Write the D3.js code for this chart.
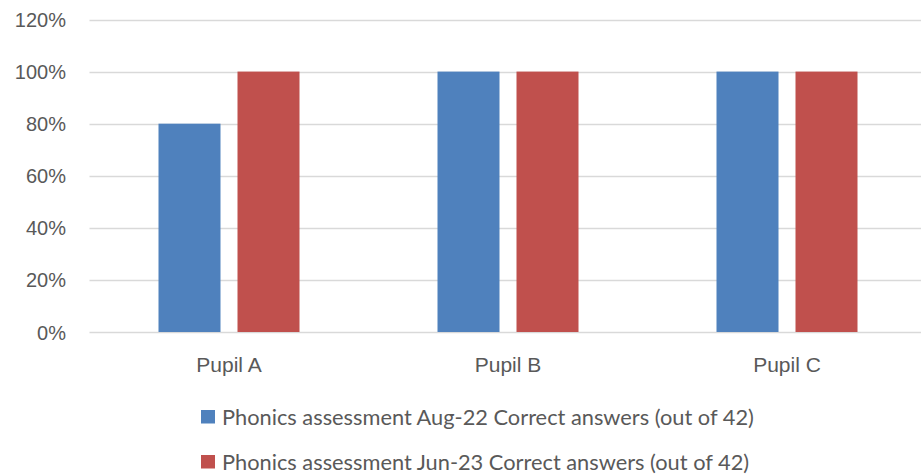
<!DOCTYPE html>
<html>
<head>
<meta charset="utf-8">
<script src="https://cdn.jsdelivr.net/npm/d3@7"></script>
<style>
  html, body { margin: 0; padding: 0; background: #fff; }
  svg { display: block; font-family: "Lato", "Open Sans", sans-serif; }
</style>
</head>
<body>
<svg id="chart" width="921" height="476"></svg>
<script>
// Pupils and their phonics scores (share of 42 questions answered correctly)
const categories = ["Pupil A", "Pupil B", "Pupil C"];
const seriesNames = [
  "Phonics assessment Aug-22 Correct answers (out of 42)",
  "Phonics assessment Jun-23 Correct answers (out of 42)"
];
const aug22 = [0.8, 1.0, 1.0];
const jun23 = [1.0, 1.0, 1.0];
const yTicks = [0, 0.2, 0.4, 0.6, 0.8, 1.0, 1.2];
const colors = ["#4F81BD", "#C0504D"];

const series = [aug22, jun23];

const svg = d3.select("#chart");
const plot = { left: 89.5, right: 926.5, top: 19.5, bottom: 332 };

const x = d3.scaleBand().domain(categories).range([plot.left, plot.right]);
const y = d3.scaleLinear().domain([0, 1.2]).range([plot.bottom, plot.top]);
const barW = 62, barGap = 17;
const xs = d3.scaleBand().domain(d3.range(series.length))
  .range([0, barW * 2 + barGap]).paddingInner(barGap / (barW + barGap));

// horizontal gridlines
svg.append("g").selectAll("line").data(yTicks).join("line")
  .attr("x1", plot.left).attr("x2", plot.right)
  .attr("y1", d => Math.round(y(d)) + 0.5).attr("y2", d => Math.round(y(d)) + 0.5)
  .attr("stroke", "#D9D9D9").attr("stroke-width", 1.3);

// y axis labels
const yAxis = d3.axisLeft(y).tickValues(yTicks).tickFormat(d3.format(".0%")).tickSize(0).tickPadding(0);
const ya = svg.append("g").attr("transform", `translate(66,0)`).call(yAxis);
ya.select(".domain").remove();
ya.selectAll("text").attr("fill", "#595959").style("font-size", "20px").attr("dy", "0.35em");

// bars
const groups = svg.append("g").selectAll("g").data(series).join("g")
  .attr("fill", (d, i) => colors[i]);
groups.each(function (vals, si) {
  d3.select(this).selectAll("rect").data(vals).join("rect")
    .attr("x", (v, ci) => x(categories[ci]) + x.bandwidth() / 2 - (barW * 2 + barGap) / 2 + xs(si))
    .attr("width", xs.bandwidth())
    .attr("y", v => y(v))
    .attr("height", v => y(0) - y(v));
});

// x axis labels
const xAxis = d3.axisBottom(x).tickSize(0).tickPadding(0);
const xa = svg.append("g").attr("transform", `translate(0,372)`).call(xAxis);
xa.select(".domain").remove();
xa.selectAll("text").attr("fill", "#595959").style("font-size", "21px").attr("dy", "0");

// legend
const legend = svg.append("g").selectAll("g").data(seriesNames).join("g")
  .attr("transform", (d, i) => `translate(201,${410 + i * 45})`);
legend.append("rect").attr("width", 14).attr("height", 13.5).attr("fill", (d, i) => colors[i]);
legend.append("text").attr("x", 21).attr("y", 15)
  .attr("fill", "#595959").style("font-size", "21.8px").text(d => d);
</script>
</body>
</html>
